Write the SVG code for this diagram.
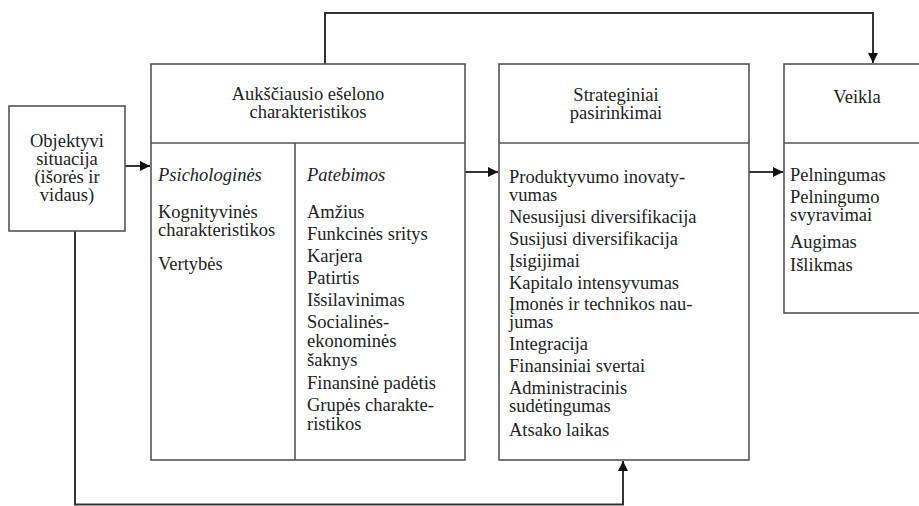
<svg xmlns="http://www.w3.org/2000/svg" width="919" height="506" viewBox="0 0 919 506">
<defs>
<style>
.box{fill:#fff;stroke:#555;stroke-width:1.6}
.div{fill:none;stroke:#555;stroke-width:1.6}
.con{fill:none;stroke:#333;stroke-width:2}
text{font-family:"Liberation Serif","Times New Roman",serif;font-size:18.5px;fill:#222}
.c{text-anchor:middle}
.i{font-style:italic}
</style>
<marker id="arr" viewBox="0 0 10 10" refX="10" refY="5" markerWidth="10" markerHeight="10" markerUnits="userSpaceOnUse" orient="auto">
<path d="M0,0 L10,5 L0,10 Z" fill="#111"/>
</marker>
</defs>
<rect width="919" height="506" fill="#fff"/>
<g id="connectors">
<path class="con" d="M325,64 V13 H873 V63" marker-end="url(#arr)"/>
<path class="con" d="M75,231 V504.5 H623 V461" marker-end="url(#arr)"/>
<path class="con" d="M125,166 H150" marker-end="url(#arr)"/>
<path class="con" d="M465,172 H498" marker-end="url(#arr)"/>
<path class="con" d="M749,172 H783" marker-end="url(#arr)"/>
</g>
<g id="objektyvi">
<rect class="box" x="9" y="106" width="116" height="125"/>
<text class="c" x="67" y="147">Objektyvi</text>
<text class="c" x="67" y="165">situacija</text>
<text class="c" x="67" y="183">(išorės ir</text>
<text class="c" x="67" y="201">vidaus)</text>
</g>
<g id="aukscio">
<rect class="box" x="151" y="64" width="314" height="396"/>
<path class="div" d="M151,143 H465 M295,143 V460"/>
<text class="c" x="308" y="100">Aukščiausio ešelono</text>
<text class="c" x="308" y="118">charakteristikos</text>
<text class="i" x="158" y="181">Psichologinės</text>
<text x="158" y="218">Kognityvinės</text>
<text x="158" y="236">charakteristikos</text>
<text x="158" y="270">Vertybės</text>
<text class="i" x="307" y="181">Patebimos</text>
<text x="307" y="218">Amžius</text>
<text x="307" y="240">Funkcinės sritys</text>
<text x="307" y="262">Karjera</text>
<text x="307" y="284">Patirtis</text>
<text x="307" y="306">Išsilavinimas</text>
<text x="307" y="328">Socialinės-</text>
<text x="307" y="347">ekonominės</text>
<text x="307" y="366">šaknys</text>
<text x="307" y="389">Finansinė padėtis</text>
<text x="307" y="411">Grupės charakte-</text>
<text x="307" y="430">ristikos</text>
</g>
<g id="strateginiai">
<rect class="box" x="499" y="64" width="250" height="396"/>
<path class="div" d="M499,143 H749"/>
<text class="c" x="616" y="101">Strateginiai</text>
<text class="c" x="616" y="119">pasirinkimai</text>
<text x="509" y="183">Produktyvumo inovaty-</text>
<text x="509" y="201">vumas</text>
<text x="509" y="223">Nesusijusi diversifikacija</text>
<text x="509" y="245">Susijusi diversifikacija</text>
<text x="509" y="267">Įsigijimai</text>
<text x="509" y="289">Kapitalo intensyvumas</text>
<text x="509" y="310">Įmonės ir technikos nau-</text>
<text x="509" y="328">jumas</text>
<text x="509" y="350">Integracija</text>
<text x="509" y="372">Finansiniai svertai</text>
<text x="509" y="394">Administracinis</text>
<text x="509" y="412">sudėtingumas</text>
<text x="509" y="436">Atsako laikas</text>
</g>
<g id="veikla">
<rect class="box" x="784" y="64" width="150" height="249"/>
<path class="div" d="M784,143 H934"/>
<text class="c" x="857" y="103">Veikla</text>
<text x="790" y="181">Pelningumas</text>
<text x="790" y="203">Pelningumo</text>
<text x="790" y="221">svyravimai</text>
<text x="790" y="248">Augimas</text>
<text x="790" y="271">Išlikmas</text>
</g>
</svg>
